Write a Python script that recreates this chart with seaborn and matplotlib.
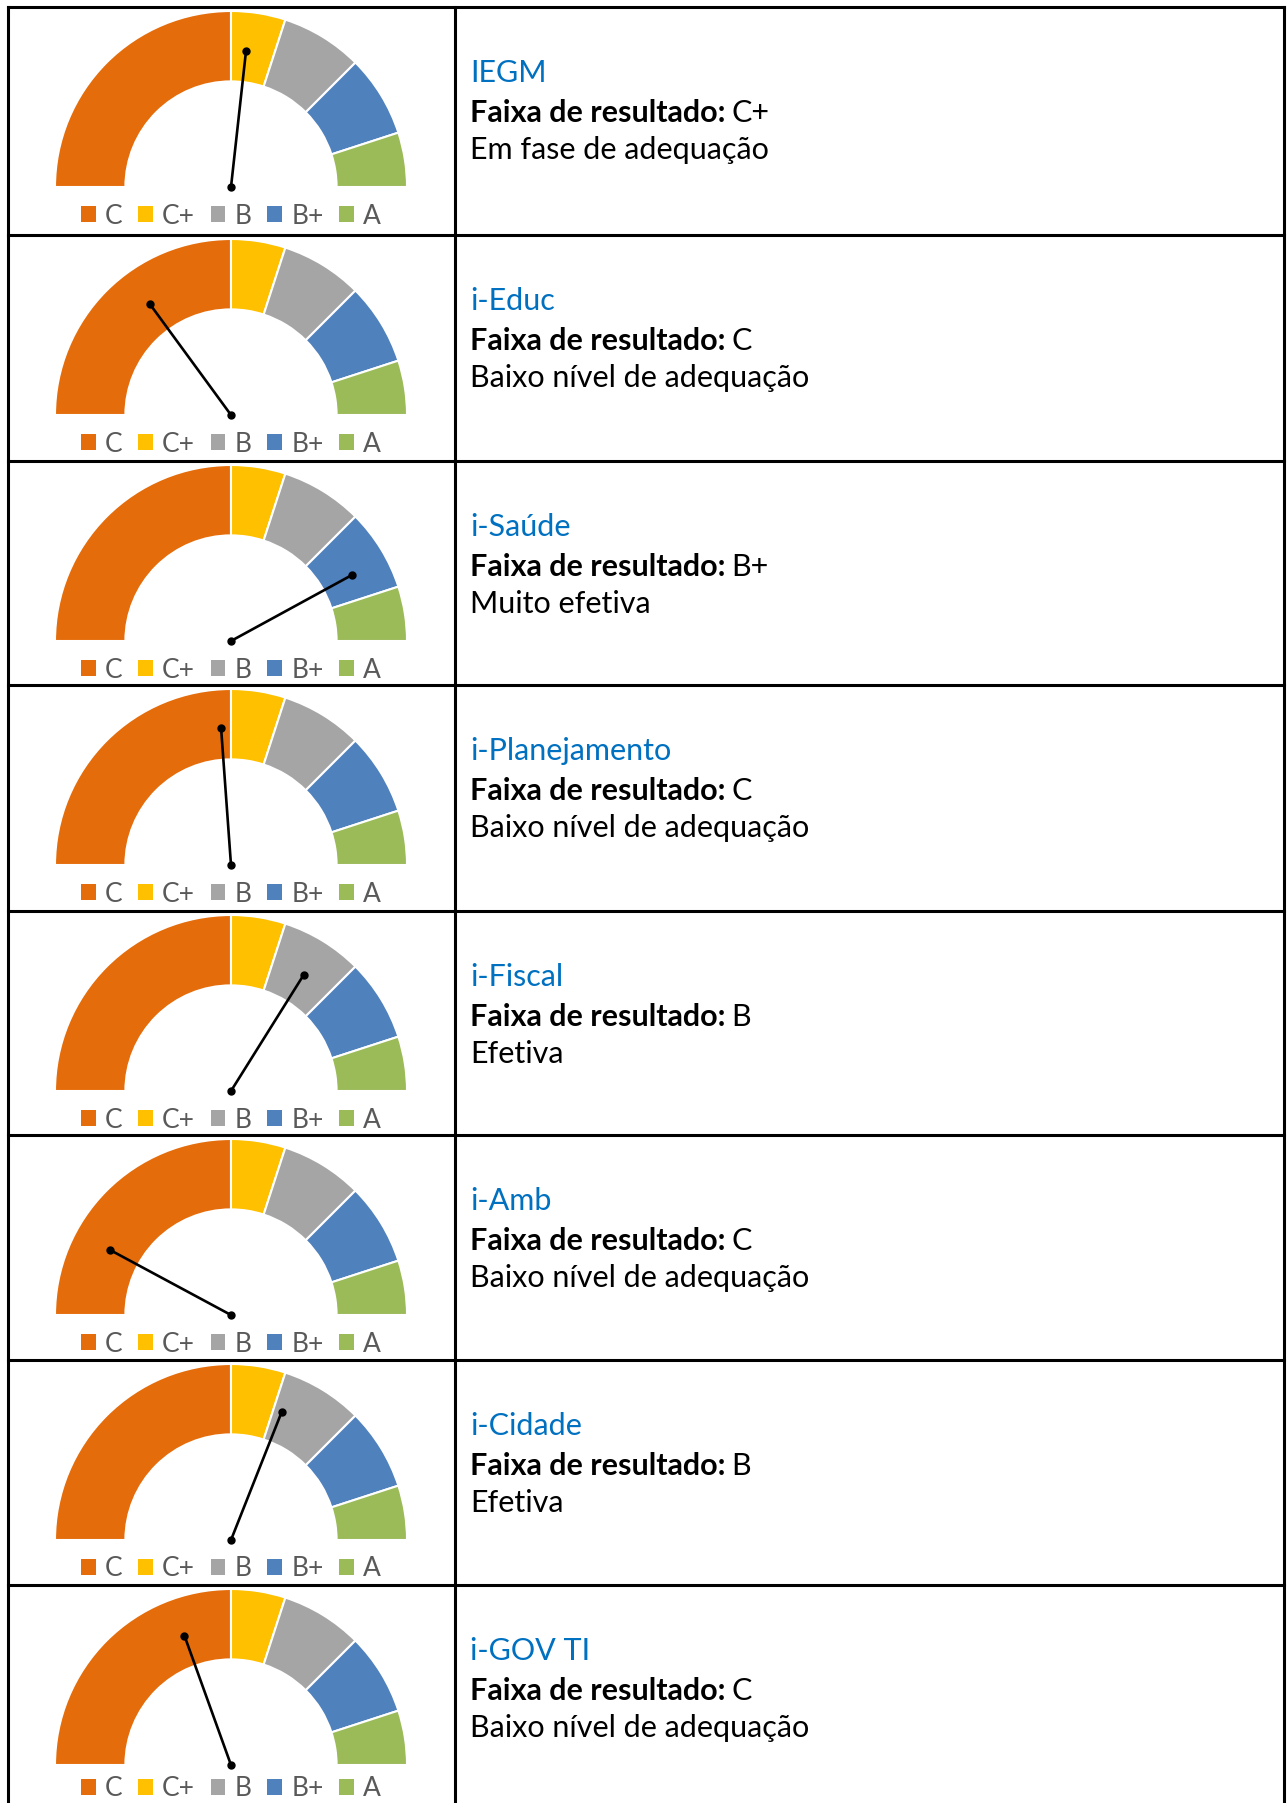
import numpy as np
import matplotlib
matplotlib.use("Agg")
import matplotlib.pyplot as plt
from matplotlib.patches import Patch
import seaborn as sns

# Indicadores e resultados
indicadores = ["IEGM", "i-Educ", "i-Saúde", "i-Planejamento",
               "i-Fiscal", "i-Amb", "i-Cidade", "i-GOV TI"]
faixas = ["C+", "C", "B+", "C", "B", "C", "B", "C"]
descricoes = ["Em fase de adequação", "Baixo nível de adequação", "Muito efetiva",
              "Baixo nível de adequação", "Efetiva", "Baixo nível de adequação",
              "Efetiva", "Baixo nível de adequação"]
# posicao do ponteiro (0-100)
notas = [53.5, 29.9, 84.1, 47.7, 67.8, 15.7, 62.0, 39.0]

# Faixas do velocimetro
faixa_labels = ["C", "C+", "B", "B+", "A"]
faixa_sizes = [50, 10, 15, 15, 10]
faixa_cores = ["#E46C0A", "#FFC000", "#A5A5A5", "#4F81BD", "#9BBB59"]

sns.set_theme(style="white")
plt.rcParams['font.family'] = ['Lato', 'DejaVu Sans']
palette = sns.color_palette(faixa_cores)

W, H = 1287, 1803
fig = plt.figure(figsize=(W / 100, H / 100), dpi=100)
base = fig.add_axes([0, 0, 1, 1])
base.set_xlim(0, W)
base.set_ylim(H, 0)
base.axis('off')

# Tabela
row_tops = [7, 235, 461, 685, 911, 1135, 1360, 1585]
x_left, x_mid, x_right = 8, 455, 1284
lw_table = 2.2
for x in [x_left, x_mid, x_right]:
    base.plot([x, x], [row_tops[0], H + 5], color='black', lw=lw_table, solid_capstyle='projecting')
for y in row_tops:
    base.plot([x_left, x_right], [y, y], color='black', lw=lw_table, solid_capstyle='projecting')

renderer = fig.canvas.get_renderer()
R = 176
for i, top in enumerate(row_tops):
    cx, cy = 231, top + 180
    # eixo do velocimetro
    l, r = cx - 1.05 * R, cx + 1.05 * R
    t, b = cy - 1.05 * R, cy + 0.1 * R
    ax = fig.add_axes([l / W, 1 - b / H, (r - l) / W, (b - t) / H])
    wedges, _ = ax.pie(faixa_sizes + [sum(faixa_sizes)], colors=list(palette) + ['none'],
                       startangle=180, counterclock=False, radius=1,
                       wedgeprops=dict(width=0.4, edgecolor='white', linewidth=1.5))
    wedges[-1].set_visible(False)
    ax.set_xlim(-1.05, 1.05)
    ax.set_ylim(-0.1, 1.05)
    ax.axis('off')
    ang = np.deg2rad(180 - notas[i] * 1.8)
    ax.plot([0, 0.78 * np.cos(ang)], [0, 0.78 * np.sin(ang)], color='black',
            lw=1.9, marker='o', markersize=5, zorder=5, solid_capstyle='round')
    handles = [Patch(facecolor=c, edgecolor='none') for c in palette]
    leg_y = min(top + 209, H - 14)
    ax.legend(handles, faixa_labels, ncol=5, frameon=False, loc='center',
              bbox_to_anchor=(cx, leg_y), bbox_transform=base.transData,
              fontsize=19, labelcolor='#595959', handlelength=0.55,
              handleheight=0.55, handletextpad=0.35, columnspacing=0.6,
              borderpad=0, borderaxespad=0)

    # texto
    base.text(470, top + 75, indicadores[i], color='#0070C0', fontsize=22, va='baseline')
    tb = base.text(470, top + 115, "Faixa de resultado:", color='black', fontsize=22,
                   fontweight='bold', va='baseline')
    x_end = tb.get_window_extent(renderer=renderer).x1
    base.text(x_end + 6, top + 115, faixas[i], color='black', fontsize=22, va='baseline')
    base.text(470, top + 152, descricoes[i], color='black', fontsize=22, va='baseline')

fig.savefig("out.png", dpi=100)
